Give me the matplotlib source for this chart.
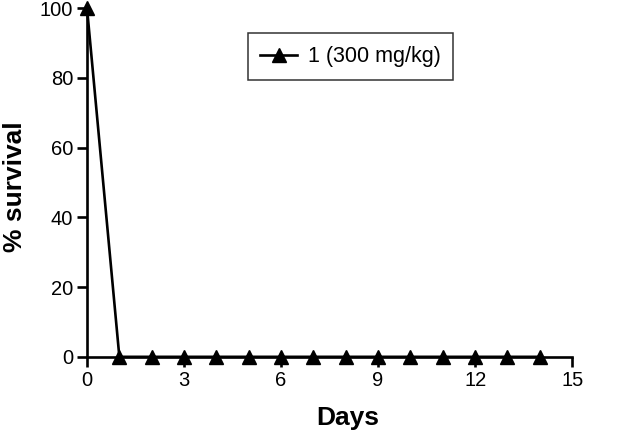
import matplotlib
matplotlib.use('Agg')
import matplotlib.pyplot as plt

plt.rcParams['font.family'] = ['Liberation Sans', 'DejaVu Sans']

# Datos
days = [0, 1, 2, 3, 4, 5, 6, 7, 8, 9, 10, 11, 12, 13, 14]
survival = [100, 0, 0, 0, 0, 0, 0, 0, 0, 0, 0, 0, 0, 0, 0]
serie = '1 (300 mg/kg)'
xticks = [0, 3, 6, 9, 12, 15]
yticks = [0, 20, 40, 60, 80, 100]

fig = plt.figure(figsize=(6.26, 4.32), dpi=100)
ax = fig.add_axes([0.139, 0.174, 0.775, 0.807])

ax.plot(days, survival, color='black', lw=1.9, marker='^', markersize=9.5,
        label=serie, clip_on=False, zorder=3)

ax.set_xlim(0, 15)
ax.set_ylim(0, 100)
ax.set_xticks(xticks)
ax.set_yticks(yticks)
ax.spines['top'].set_visible(False)
ax.spines['right'].set_visible(False)
for s in ['left', 'bottom']:
    ax.spines[s].set_linewidth(1.9)
ax.tick_params(direction='out', length=7, width=1.9, labelsize=14.5, pad=3)

ax.set_xlabel('Days', fontsize=19, fontweight='bold')
ax.xaxis.set_label_coords(0.538, -0.14)
ax.set_ylabel('% survival', fontsize=19, fontweight='bold')
ax.yaxis.set_label_coords(-0.124, 0.487)

leg = ax.legend(loc='upper center', bbox_to_anchor=(0.543, 0.928), fontsize=15.5,
                frameon=True, fancybox=False, edgecolor='black',
                handlelength=1.72, handletextpad=0.47, borderpad=0.6,
                borderaxespad=0)
leg.get_frame().set_linewidth(1.1)

fig.savefig('out.png', dpi=100)
